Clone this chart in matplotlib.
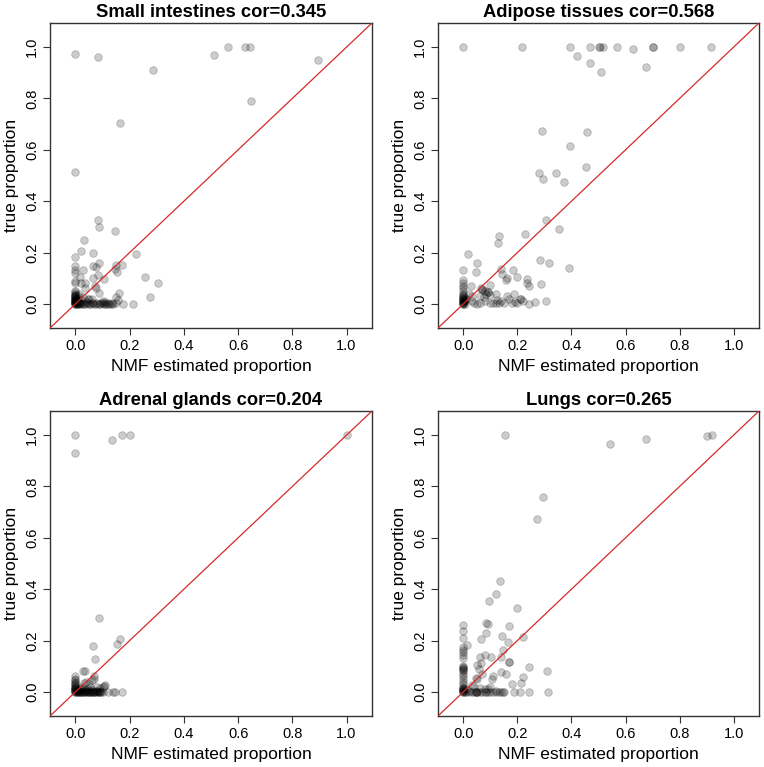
import matplotlib
matplotlib.use("Agg")
import matplotlib.pyplot as plt

plt.rcParams['font.family'] = ['Liberation Sans', 'DejaVu Sans']

titles = ["Small intestines cor=0.345", "Adipose tissues cor=0.568",
          "Adrenal glands cor=0.204", "Lungs cor=0.265"]
xlabel = "NMF estimated proportion"
ylabel = "true proportion"
ticks = [0.0, 0.2, 0.4, 0.6, 0.8, 1.0]
tick_labels = ["0.0", "0.2", "0.4", "0.6", "0.8", "1.0"]

# Small intestines
si_x = [0.0, 0.083, 0.286, 0.512, 0.564, 0.624, 0.643, 0.647, 0.893, 0.164, 0.0,
        0.083, 0.087, 0.145, 0.031, 0.020, 0.064, 0.085, 0.222, 0.0, 0.0, 0.028,
        0.063, 0.074, 0.148, 0.170, 0.154, 0.144, 0.018, 0.066, 0.084, 0.106,
        0.255, 0.305, 0.022, 0.034, 0.0, 0.0, 0.0, 0.0, 0.073, 0.076, 0.087,
        0.160, 0.148, 0.276, 0.156, 0.177, 0.213, 0.049, 0.027,
        0.0, 0.0, 0.0, 0.0, 0.0, 0.0, 0.0, 0.0, 0.0, 0.0, 0.0, 0.0, 0.0,
        0.0, 0.0, 0.0, 0.0, 0.0, 0.0, 0.0, 0.0,
        0.005, 0.01, 0.015, 0.02, 0.03, 0.04, 0.05, 0.06, 0.07, 0.08, 0.09,
        0.10, 0.11, 0.12, 0.13, 0.14, 0.15,
        0.008, 0.013, 0.025, 0.035, 0.045, 0.055, 0.065, 0.075, 0.085, 0.095,
        0.105, 0.115, 0.125, 0.135,
        0.005, 0.01, 0.015, 0.02, 0.04, 0.06, 0.10, 0.11, 0.035, 0.045, 0.008, 0.012,
        0.004, 0.006, 0.003]
si_y = [0.975, 0.962, 0.911, 0.971, 0.999, 1.0, 1.0, 0.791, 0.949, 0.706, 0.513,
        0.325, 0.299, 0.284, 0.250, 0.206, 0.199, 0.159, 0.196, 0.183, 0.146, 0.133,
        0.148, 0.144, 0.150, 0.153, 0.124, 0.136, 0.105, 0.102, 0.111, 0.095,
        0.104, 0.082, 0.082, 0.082, 0.080, 0.090, 0.120, 0.133, 0.071, 0.061, 0.043,
        0.043, 0.027, 0.025, 0.014, 0.0, 0.0, 0.020, 0.027,
        0.0, 0.0, 0.004, 0.008, 0.012, 0.016, 0.02, 0.025, 0.03, 0.035, 0.04, 0.045, 0.05,
        0.002, 0.006, 0.01, 0.014, 0.018, 0.022, 0.028, 0.033,
        0.0, 0.002, 0.0, 0.005, 0.0, 0.003, 0.0, 0.002, 0.0, 0.004, 0.0,
        0.002, 0.0, 0.003, 0.0, 0.0, 0.002,
        0.0, 0.004, 0.001, 0.0, 0.002, 0.0, 0.003, 0.001, 0.0, 0.002,
        0.0, 0.001, 0.0, 0.002,
        0.01, 0.02, 0.005, 0.015, 0.01, 0.02, 0.01, 0.008, 0.06, 0.02, 0.03, 0.04,
        0.0, 0.003, 0.007]

# Adipose tissues
ad_x = [0.0, 0.216, 0.393, 0.467, 0.500, 0.506, 0.518, 0.570, 0.703, 0.703, 0.803,
        0.915, 0.421, 0.468, 0.509, 0.628, 0.675, 0.292, 0.457, 0.394, 0.454,
        0.281, 0.296, 0.343, 0.374, 0.305, 0.352, 0.228, 0.130, 0.128, 0.018,
        0.283, 0.318, 0.390, 0.052, 0.0, 0.046, 0.138, 0.182, 0.144, 0.160, 0.156,
        0.200, 0.236, 0.235, 0.242, 0.286, 0.0, 0.027, 0.097, 0.069, 0.091, 0.186,
        0.190, 0.215, 0.264, 0.243, 0.306,
        0.07, 0.08, 0.085, 0.09, 0.06, 0.10, 0.12, 0.125, 0.14, 0.15, 0.16, 0.17,
        0.12, 0.10, 0.08, 0.06, 0.04, 0.03, 0.02, 0.03, 0.05, 0.18, 0.20, 0.21,
        0.22, 0.11, 0.13, 0.01, 0.005, 0.075, 0.065,
        0.0, 0.0, 0.0, 0.0, 0.0, 0.0, 0.0, 0.0, 0.0, 0.0, 0.0, 0.0, 0.0,
        0.0, 0.0, 0.0, 0.0, 0.0, 0.0, 0.005, 0.003, 0.008]
ad_y = [1.0, 1.0, 1.0, 1.0, 1.0, 1.0, 1.0, 1.0, 1.0, 1.0, 1.0,
        1.0, 0.966, 0.939, 0.903, 0.991, 0.921, 0.674, 0.668, 0.613, 0.535,
        0.508, 0.486, 0.508, 0.475, 0.326, 0.293, 0.273, 0.263, 0.238, 0.194,
        0.172, 0.158, 0.140, 0.159, 0.130, 0.124, 0.136, 0.133, 0.115, 0.102, 0.092,
        0.105, 0.095, 0.082, 0.069, 0.076, 0.092, 0.071, 0.075, 0.056, 0.047, 0.040,
        0.008, 0.020, 0.008, 0.0, 0.013,
        0.055, 0.050, 0.040, 0.045, 0.030, 0.035, 0.040, 0.015, 0.010, 0.005, 0.030, 0.020,
        0.005, 0.005, 0.010, 0.005, 0.005, 0.010, 0.040, 0.030, 0.0, 0.005, 0.005, 0.020,
        0.010, 0.005, 0.005, 0.020, 0.010, 0.025, 0.06,
        0.0, 0.005, 0.01, 0.015, 0.02, 0.025, 0.03, 0.04, 0.05, 0.06, 0.07, 0.08, 0.0,
        0.002, 0.008, 0.012, 0.018, 0.022, 0.035, 0.0, 0.01, 0.02]

# Adrenal glands
ag_x = [0.0, 0.0, 0.133, 0.170, 0.200, 1.0, 0.085, 0.164, 0.155, 0.065, 0.071,
        0.027, 0.034, 0.070, 0.0, 0.107,
        0.0, 0.0, 0.0, 0.0, 0.0, 0.0, 0.0, 0.0, 0.0, 0.0,
        0.0, 0.0, 0.0, 0.0, 0.0, 0.0,
        0.005, 0.01, 0.015, 0.02, 0.025, 0.03, 0.035, 0.04, 0.045, 0.05, 0.055,
        0.06, 0.065, 0.07, 0.075, 0.08, 0.085, 0.09, 0.095, 0.10,
        0.005, 0.01, 0.02, 0.03, 0.04, 0.05, 0.06, 0.07, 0.08, 0.09,
        0.008, 0.012, 0.018, 0.028, 0.038, 0.048, 0.058, 0.068, 0.078, 0.088,
        0.02, 0.03, 0.04, 0.05, 0.06, 0.07, 0.08, 0.09, 0.10, 0.11, 0.12, 0.14,
        0.145, 0.17, 0.015, 0.025, 0.045, 0.055]
ag_y = [1.0, 0.931, 0.980, 1.0, 1.0, 1.0, 0.289, 0.206, 0.187, 0.180, 0.128,
        0.083, 0.083, 0.062, 0.060, 0.023,
        0.0, 0.005, 0.01, 0.015, 0.02, 0.025, 0.03, 0.04, 0.045, 0.05,
        0.0, 0.003, 0.008, 0.012, 0.018, 0.035,
        0.0, 0.0, 0.0, 0.0, 0.0, 0.0, 0.0, 0.0, 0.0, 0.0, 0.0,
        0.0, 0.0, 0.0, 0.0, 0.0, 0.0, 0.0, 0.0, 0.0,
        0.004, 0.006, 0.008, 0.005, 0.007, 0.004, 0.006, 0.003, 0.005, 0.004,
        0.0, 0.002, 0.001, 0.0, 0.002, 0.0, 0.001, 0.0, 0.002, 0.0,
        0.02, 0.035, 0.04, 0.03, 0.045, 0.05, 0.02, 0.015, 0.02, 0.025, 0.0, 0.0,
        0.0, 0.0, 0.01, 0.015, 0.012, 0.018]

# Lungs
lu_x = [0.153, 0.543, 0.677, 0.900, 0.919, 0.293, 0.273, 0.135, 0.122, 0.096,
        0.197, 0.084, 0.091, 0.169, 0.0, 0.0, 0.0, 0.083, 0.064, 0.143, 0.222,
        0.164, 0.015, 0.0, 0.0, 0.0, 0.0, 0.0, 0.148, 0.079, 0.063, 0.103, 0.140,
        0.170, 0.170, 0.049, 0.059, 0.065, 0.140, 0.156, 0.243, 0.309, 0.219,
        0.212, 0.179, 0.110, 0.106, 0.046, 0.032,
        0.312, 0.241, 0.211, 0.188, 0.152, 0.130,
        0.0, 0.0, 0.0, 0.0, 0.0, 0.0, 0.0, 0.0, 0.0, 0.0, 0.0, 0.0, 0.0, 0.0,
        0.0, 0.0, 0.0, 0.0, 0.0, 0.0,
        0.005, 0.01, 0.02, 0.03, 0.04, 0.045, 0.05, 0.06, 0.07, 0.08, 0.085, 0.09,
        0.10, 0.11, 0.12, 0.14, 0.145, 0.046, 0.05,
        0.01, 0.02, 0.04, 0.06, 0.08, 0.10, 0.12, 0.07, 0.09, 0.05]
lu_y = [1.0, 0.966, 0.986, 0.996, 1.0, 0.760, 0.672, 0.433, 0.381, 0.354,
        0.326, 0.270, 0.265, 0.257, 0.259, 0.238, 0.208, 0.228, 0.205, 0.218, 0.213,
        0.196, 0.182, 0.173, 0.164, 0.155, 0.144, 0.130, 0.163, 0.144, 0.134, 0.134, 0.134,
        0.118, 0.118, 0.104, 0.088, 0.111, 0.079, 0.069, 0.097, 0.080, 0.056,
        0.036, 0.032, 0.060, 0.049, 0.053, 0.027,
        0.0, 0.0, 0.0, 0.0, 0.0, 0.0,
        0.0, 0.005, 0.01, 0.015, 0.02, 0.03, 0.04, 0.05, 0.06, 0.07, 0.08, 0.09, 0.095, 0.10,
        0.0, 0.002, 0.008, 0.012, 0.085, 0.092,
        0.0, 0.0, 0.0, 0.0, 0.0, 0.0, 0.0, 0.0, 0.0, 0.0, 0.0, 0.0,
        0.0, 0.0, 0.0, 0.0, 0.0, 0.0, 0.0,
        0.01, 0.005, 0.02, 0.015, 0.01, 0.02, 0.005, 0.07, 0.01, 0.05]

data = [(si_x, si_y), (ad_x, ad_y), (ag_x, ag_y), (lu_x, lu_y)]

W, H = 764, 767
fig = plt.figure(figsize=(W / 100, H / 100), dpi=100)
fig.patch.set_facecolor("white")

# pixel boxes: left, top, right, bottom
boxes = [(50, 23, 372, 328), (438, 23, 759, 328),
         (50, 411, 372, 716), (438, 411, 759, 716)]

lo, hi = -0.094, 1.094
for (l, t, r, b), title, (xs, ys) in zip(boxes, titles, data):
    ax = fig.add_axes([l / W, 1 - b / H, (r - l) / W, (b - t) / H])
    ax.scatter(xs, ys, s=30, facecolor=(0, 0, 0, 0.2), edgecolor=(0, 0, 0, 0.22),
               linewidth=0.6, zorder=2)
    ax.plot([lo, hi], [lo, hi], color="#d42a2a", lw=0.9, zorder=3)
    ax.set_xlim(lo, hi)
    ax.set_ylim(lo, hi)
    ax.set_xticks(ticks)
    ax.set_xticklabels(tick_labels)
    ax.set_yticks(ticks)
    ax.set_yticklabels(tick_labels, rotation=90, va="center")
    ax.tick_params(length=5, width=0.8, labelsize=10.5, pad=3, color="#333333")
    for sp in ax.spines.values():
        sp.set_color("#333333")
        sp.set_linewidth(1.0)
    ax.set_title(title, fontsize=13.2, fontweight="bold", pad=4)
    ax.set_xlabel(xlabel, fontsize=12.5, labelpad=4)
    ax.set_ylabel(ylabel, fontsize=12.5, labelpad=4)

fig.savefig("out.png", dpi=100)
